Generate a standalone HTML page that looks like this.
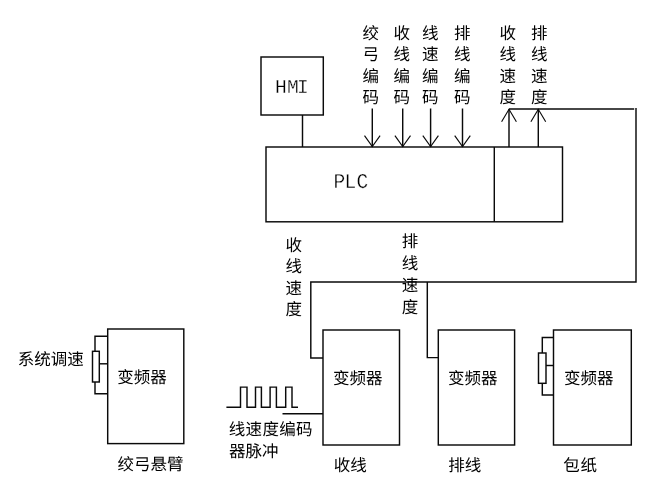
<!DOCTYPE html>
<html lang="zh-CN">
<head>
<meta charset="utf-8">
<title>PLC 变频器 系统框图</title>
<style>
html,body{margin:0;padding:0;background:#fff;}
body{width:657px;height:490px;overflow:hidden;position:relative;}
svg{position:absolute;left:0;top:0;display:block;will-change:transform;}
.g polyline,.g rect{stroke:#0a0a0a;stroke-width:1.45;stroke-linecap:butt;stroke-linejoin:miter;}
.g polyline{fill:none;}
text.c{font-family:"Liberation Sans", "Noto Sans CJK SC", sans-serif;font-size:16.5px;font-weight:400;fill:#000;text-rendering:geometricPrecision;}
text.l{font-family:"Liberation Mono", "DejaVu Sans Mono", monospace;fill:#000;text-rendering:geometricPrecision;stroke:#fff;stroke-width:0.3px;}
</style>
</head>
<body>
<svg width="657" height="490" viewBox="0 0 657 490">
<rect x="0" y="0" width="657" height="490" fill="#fff"/>
<g class="g">
<rect x="261" y="57" width="62.3" height="58" fill="none"/>
<polyline points="302.5,115 302.5,147"/>
<rect x="266" y="147" width="296.5" height="74.8" fill="none"/>
<polyline points="494.3,147 494.3,221.8"/>
<polyline points="372.3,108.5 372.3,147"/>
<polyline style="stroke-width:1.15" points="364.5,135.6 372.3,146.6 380.1,135.6"/>
<polyline points="402.7,108.5 402.7,147"/>
<polyline style="stroke-width:1.15" points="394.9,135.6 402.7,146.6 410.5,135.6"/>
<polyline points="430.6,108.5 430.6,147"/>
<polyline style="stroke-width:1.15" points="422.8,135.6 430.6,146.6 438.4,135.6"/>
<polyline points="462.5,108.5 462.5,147"/>
<polyline style="stroke-width:1.15" points="454.7,135.6 462.5,146.6 470.3,135.6"/>
<polyline points="509,147 509,109"/>
<polyline style="stroke-width:1.15" points="501.6,121.8 509,109.3 516.4,121.8"/>
<polyline points="538.3,147 538.3,109"/>
<polyline style="stroke-width:1.15" points="530.9,121.8 538.3,109.3 545.7,121.8"/>
<polyline points="509,109 634.2,109"/>
<polyline points="636,108.1 636,282 310.8,282 310.8,358 323,358"/>
<polyline points="427.3,282 427.3,357.6 438.4,357.6"/>
<rect x="107.7" y="329" width="76.1" height="114.6" fill="none"/>
<polyline points="107.7,336.3 95,336.3 95,393.8 107.7,393.8"/>
<rect x="92.5" y="351.3" width="6.8" height="30.7" fill="#fff"/>
<polyline points="99.3,363.8 107.7,363.8"/>
<rect x="323" y="330" width="76.5" height="115" fill="none"/>
<rect x="438.3" y="330" width="76.3" height="115" fill="none"/>
<rect x="553.5" y="330" width="77.8" height="115" fill="none"/>
<polyline points="553.5,337.5 542.3,337.5 542.3,395 553.5,395"/>
<rect x="538.5" y="353" width="7.5" height="30.3" fill="#fff"/>
<polyline points="546,365.5 553.5,365.5"/>
<polyline points="226.4,407.2 240.5,407.2 240.5,387.1 247,387.1 247,407.2 255.5,407.2 255.5,387.1 261.4,387.1 261.4,407.2 270.1,407.2 270.1,387.1 276.4,387.1 276.4,407.2 285.7,407.2 285.7,387.1 292,387.1 292,407.2 298,407.2"/>
<polyline points="282.5,413.8 323,413.8"/>
</g>
<g>
<text class="c" text-anchor="middle" x="370.75 370.75 370.75 370.75" y="39 60 82 103">绞弓编码</text>
<text class="c" text-anchor="middle" x="401.75 401.75 401.75 401.75" y="39 60 82 103">收线编码</text>
<text class="c" text-anchor="middle" x="430.25 430.25 430.25 430.25" y="39 60 82 103">线速编码</text>
<text class="c" text-anchor="middle" x="462.25 462.25 462.25 462.25" y="39 60 82 103">排线编码</text>
<text class="c" text-anchor="middle" x="507.75 507.75 507.75 507.75" y="39 60 82 103">收线速度</text>
<text class="c" text-anchor="middle" x="539.25 539.25 539.25 539.25" y="39 60 82 103">排线速度</text>
<text class="c" text-anchor="middle" x="293.8 293.8 293.8 293.8" y="251 272 294 315">收线速度</text>
<text class="c" text-anchor="middle" x="410 410 410 410" y="247 269 291 313">排线速度</text>
<text class="c" x="17.8" y="365">系统调速</text>
<text class="c" x="117.2" y="383">变频器</text>
<text class="c" x="117.6" y="470">绞弓悬臂</text>
<text class="c" x="228.8" y="435" letter-spacing="0.3">线速度编码</text>
<text class="c" x="229" y="457">器脉冲</text>
<text class="c" x="333" y="384">变频器</text>
<text class="c" x="333.8" y="471">收线</text>
<text class="c" x="448" y="384">变频器</text>
<text class="c" x="448.3" y="471">排线</text>
<text class="c" x="564" y="384">变频器</text>
<text class="c" x="563.3" y="471" letter-spacing="0.8">包纸</text>
<text class="l" font-size="19.6" transform="translate(0,93) scale(1,1)" x="274.98 286.90 297.00" y="0">HMI</text>
<text class="l" font-size="21" transform="translate(0,188) scale(0.93,1)" x="358.54 370.43 383.44" y="0">PLC</text>
</g>
</svg>
</body>
</html>
